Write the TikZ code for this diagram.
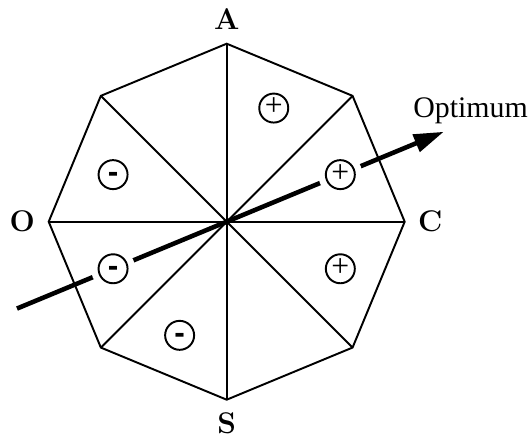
\documentclass[tikz,border=0pt]{standalone}
\usepackage{fontspec}
\newfontfamily\timesfont{Liberation Serif}
\newfontfamily\arialfont{Liberation Sans}
\usetikzlibrary{positioning,arrows.meta}
\tikzset{
  edge/.style={line width=1.1pt},
  optarrow/.style={line width=2.6pt, -{Triangle[length=0.6cm,width=0.36cm]}},
  corner/.style={font=\fontsize{17}{17}\selectfont\bfseries, inner sep=0pt},
  sign/.style={circle, draw, line width=1.1pt, minimum size=0.58cm, inner sep=0pt, fill=white,
    preaction={draw=white, line width=0.3cm}, text height=10pt, text depth=1pt},
  plussign/.style={sign, font=\timesfont\fontsize{18}{18}\selectfont},
  minussign/.style={sign, font=\arialfont\bfseries\fontsize{18}{18}\selectfont},
}
\begin{document}
\begin{tikzpicture}[x=0.02cm, y=0.02cm]
        \useasboundingbox (-226.7,-215.3) rectangle (302.3,221.7);
        % octagon corners
        \coordinate (M) at (0,0);
        \coordinate (vA) at (90:178);
        \coordinate (vAC) at (45:178);
        \coordinate (vC) at (0:178);
        \coordinate (vCS) at (-45:178);
        \coordinate (vS) at (-90:178);
        \coordinate (vSO) at (-135:178);
        \coordinate (vO) at (180:178);
        \coordinate (vOA) at (135:178);
        \draw[edge] (vA) -- (vAC) -- (vC) -- (vCS) -- (vS) -- (vSO) -- (vO) -- (vOA) -- cycle;
        \draw[edge] (vA) -- (vS);
        \draw[edge] (vO) -- (vC);
        \draw[edge] (vOA) -- (vCS);
        \draw[edge] (vAC) -- (vSO);
        % direction to the optimum
        \coordinate (start) at (202.5:227);
        \coordinate (tip) at (22.5:235);
        \draw[optarrow] (start) -- (tip);
        \node[anchor=base west, inner sep=0pt, font=\timesfont\fontsize{17}{17}\selectfont] (opt) at (186.3,104.7) {Optimum};
        % signs
        \node[plussign] (p1) at (67.5:123) {+};
        \node[plussign] (p2) at (22.5:123) {+};
        \node[plussign] (p3) at (-22.5:123) {+};
        \node[minussign] (m1) at (157.5:123) {-};
        \node[minussign] (m2) at (202.5:123) {-};
        \node[minussign] (m3) at (247.5:123) {-};
        % corner labels
        \node[corner, above=0.27cm of vA] (A) {A};
        \node[corner, right=0.26cm of vC] (C) {C};
        \node[corner, below=0.26cm of vS] (S) {S};
        \node[corner, left=0.27cm of vO] (O) {O};
\end{tikzpicture}
\end{document}
